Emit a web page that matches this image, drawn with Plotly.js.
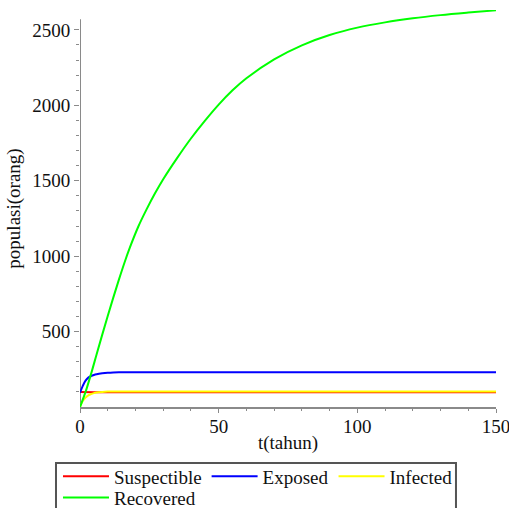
<!DOCTYPE html>
<html>
<head>
<meta charset="utf-8">
<script src="https://cdn.plot.ly/plotly-3.0.1.min.js"></script>
<style>html,body{margin:0;padding:0;background:#fff;}#chart{width:509px;height:508px;}</style>
</head>
<body>
<div id="chart"></div>
<script>
// time points (tahun)
var tS = [0, 5, 10, 20, 40, 60, 80, 100, 120, 150];
var suspectible = [100, 98, 97, 97, 97, 97, 97, 97, 97, 97];

var tE = [0, 1, 2, 3, 4, 5, 6, 8, 10, 12, 15, 20, 30, 50, 100, 150];
var exposed = [95, 140, 175, 195, 205, 212, 217, 223, 227, 229, 230, 231, 231, 231, 231, 231];

var tI = [0, 1, 2, 3, 4, 5, 6, 8, 10, 15, 20, 40, 80, 150];
var infected = [0, 40, 62, 77, 86, 92, 96, 100, 102, 103, 103, 103, 103, 103];

var tR = [0, 2, 4, 6, 8, 10, 12, 14, 16, 18, 21, 24, 27, 30, 35, 40, 45, 50, 55, 60, 70, 80, 90, 100, 110, 120, 130, 140, 150];
var recovered = [0, 100, 220, 350, 478, 603, 725, 843, 955, 1058, 1195, 1310, 1415, 1510, 1650, 1780, 1897, 2005, 2100, 2180, 2305, 2398, 2466, 2515, 2550, 2577, 2598, 2615, 2630];

var xTicks = [0, 50, 100, 150];
var yTicks = [500, 1000, 1500, 2000, 2500];

var font = 'Liberation Serif, Times New Roman, serif';
var axisGray = '#8a8a8a';

var traces = [
  {x: tS, y: suspectible, name: 'Suspectible', mode: 'lines', line: {color: '#ff0000', width: 2, shape: 'spline'}, legend: 'legend'},
  {x: tE, y: exposed, name: 'Exposed', mode: 'lines', line: {color: '#0000ff', width: 2, shape: 'spline'}, legend: 'legend'},
  {x: tI, y: infected, name: 'Infected', mode: 'lines', line: {color: '#ffff00', width: 2, shape: 'spline'}, legend: 'legend'},
  {x: tR, y: recovered, name: 'Recovered', mode: 'lines', line: {color: '#00ff00', width: 2, shape: 'spline'}, legend: 'legend2'}
];

var legendCommon = {
  orientation: 'h', xanchor: 'left', yanchor: 'top',
  borderwidth: 0, bgcolor: 'rgba(0,0,0,0)',
  font: {family: font, size: 19, color: '#111'},
  itemwidth: 46, traceorder: 'normal'
};

var layout = {
  width: 509, height: 508,
  margin: {l: 80, r: 13, t: 10, b: 101, autoexpand: false},
  paper_bgcolor: '#fff', plot_bgcolor: '#fff',
  font: {family: font, size: 19, color: '#111'},
  showlegend: true,
  legend: Object.assign({}, legendCommon, {x: -0.0529, y: -0.127}),
  legend2: Object.assign({}, legendCommon, {x: -0.0529, y: -0.1804}),
  xaxis: {
    range: [0, 150], tickvals: xTicks, ticktext: xTicks.map(String),
    showgrid: false, zeroline: false, showline: true, linecolor: axisGray, linewidth: 2,
    ticks: 'outside', ticklen: 4, tickwidth: 1, tickcolor: axisGray,
    ticklabeloverflow: 'allow', ticklabelstandoff: -3,
    minor: {dtick: 10, ticks: 'outside', ticklen: 2, tickcolor: axisGray, showgrid: false},
    title: {text: 't(tahun)', font: {family: font, size: 19}, standoff: 0},
    tickfont: {family: font, size: 19}
  },
  yaxis: {
    range: [0, 2632], tickvals: yTicks, ticktext: yTicks.map(String),
    showgrid: false, zeroline: false, showline: false,
    ticks: 'outside', ticklen: 5, tickwidth: 1, tickcolor: axisGray,
    minor: {tickmode: 'array', tickvals: [100,200,300,400,600,700,800,900,1100,1200,1300,1400,1600,1700,1800,1900,2100,2200,2300,2400], ticks: 'outside', ticklen: 3, tickcolor: axisGray, showgrid: false},
    title: {text: 'populasi(orang)', font: {family: font, size: 19}, standoff: 6},
    tickfont: {family: font, size: 19}
  },
  shapes: [
    {type: 'line', xref: 'x', yref: 'y', x0: 0, x1: 0, y0: 0, y1: 2570, line: {color: axisGray, width: 2}, layer: 'below'},
    {type: 'rect', xref: 'paper', yref: 'paper', x0: -0.0577, x1: 0.9038, y0: -0.1412, y1: -0.30, line: {color: '#555', width: 2}, fillcolor: 'rgba(0,0,0,0)', layer: 'above'}
  ]
};

Plotly.newPlot('chart', traces, layout, {displayModeBar: false, staticPlot: true});
</script>
</body>
</html>
